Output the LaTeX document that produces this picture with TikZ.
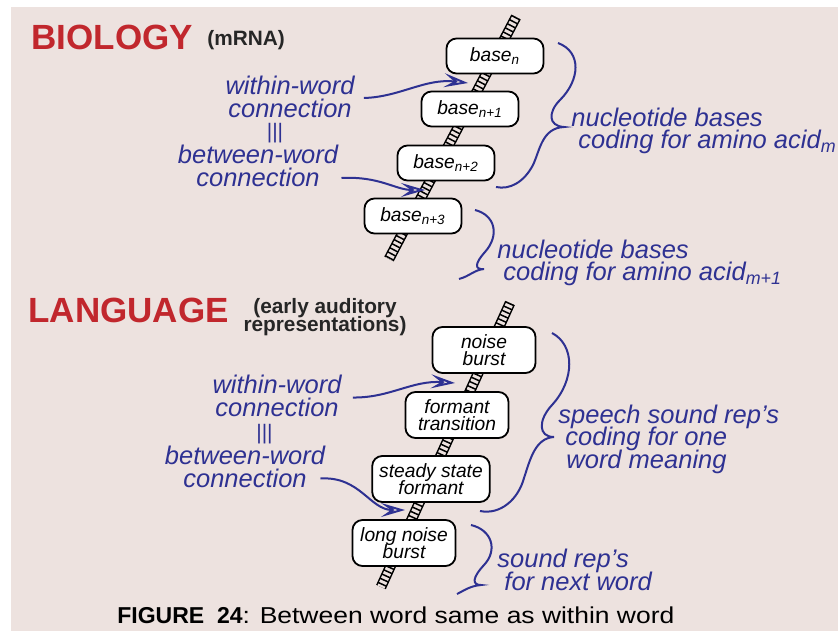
\documentclass[tikz,border=0pt]{standalone}
\usepackage{fontspec}
\setmainfont{Liberation Sans}
\newfontfamily\widesans[FakeStretch=1.15]{Liberation Sans}
\usetikzlibrary{calc,arrows.meta}
\definecolor{bgpink}{HTML}{EDE2DF}
\definecolor{inkblue}{HTML}{2E3192}
\definecolor{titlered}{HTML}{C1272D}
\setlength{\lineskiplimit}{-\maxdimen}

\tikzset{
  headline/.style={text=titlered, font=\fontsize{17.5}{18}\selectfont\bfseries, inner sep=0pt},
  subhead/.style={text=black!85, font=\fontsize{10.4}{9.1}\selectfont\bfseries, inner sep=0pt, align=center},
  unitbox/.style={draw=black, line width=0.9pt, fill=white, rounded corners=5pt,
    font=\fontsize{9.6}{8.2}\selectfont\itshape, align=center, inner xsep=3.5pt,
    minimum width=48.5pt, minimum height=17.5pt},
  soundbox/.style={unitbox, minimum width=51.5pt, minimum height=23pt},
  note/.style={text=inkblue, font=\fontsize{12.75}{11.3}\selectfont\itshape, inner sep=0pt},
  equiv/.style={text=inkblue, font=\fontsize{10.5}{10.5}\selectfont, inner sep=0pt},
  rail/.style={draw=black, line width=0.75pt, double=bgpink, double distance=3.8pt},
  rungs/.style={draw=black, line width=4.6pt, dash pattern=on 0.75pt off 1.55pt},
  arr/.style={draw=inkblue, line width=1pt, -{Stealth[open, length=12pt, width=7pt, inset=5pt]}},
  curly/.style={draw=inkblue, line width=1pt}
}

\begin{document}
\begin{tikzpicture}[x=0.5pt, y=-0.5pt]
\useasboundingbox (0,0) rectangle (838,631);
\fill[bgpink] (11,7) rectangle (838,631);

% biology
\node[headline, anchor=base west] (bioTitle) at (31,50) {BIOLOGY};
\node[subhead, anchor=base west] (bioSub) at (207,46) {(mRNA)};

\coordinate (bioTop) at (516,17);
\coordinate (bioBot) at (389,259);
\draw[rail] (bioTop) -- (bioBot);
\draw[rungs] (bioTop) -- (bioBot);

\node[unitbox] (b0) at (495,56) {base\textsubscript{n}};
\node[unitbox] (b1) at (470,109) {base\textsubscript{n+1}};
\node[unitbox] (b2) at (446,163) {base\textsubscript{n+2}};
\node[unitbox] (b3) at (413,216) {base\textsubscript{n+3}};

\node[note, align=center] (bioWithin) at (290,97) {within-word\\connection};
\node[equiv] (bioEq) at (275,133.5) {|||};
\node[note, align=center] (bioBetween) at (258,166) {between-word\\connection};

\coordinate (bioIn1) at (468,83);
\coordinate (bioIn2) at (425,190);
\draw[arr] ([shift={(9,1)}]bioWithin.east) .. controls (400,97) and (425,78) .. (bioIn1);
\draw[arr] ([shift={(3,12)}]bioBetween.east) .. controls (380,176) and (395,190) .. (bioIn2);

\draw[curly] (558,43) .. controls (582,52) and (580,80) .. (560,100)
  .. controls (548,112) and (548,126) .. (564,127)
  .. controls (542,128) and (540,150) .. (533,165)
  .. controls (524,182) and (510,190) .. (496,187);
\node[note, align=left, anchor=west] (bioCode1) at (571,131)
  {nucleotide bases\\\hspace*{3.5pt}coding for amino acid\textsubscript{m}};

\draw[curly] (475,210) .. controls (495,215) and (500,235) .. (485,252)
  .. controls (475,263) and (474,270) .. (484,269)
  .. controls (474,270) and (470,276) .. (459,279);
\node[note, align=left, anchor=west] (bioCode2) at (497,263)
  {nucleotide bases\\\hspace*{3pt}coding for amino acid\textsubscript{m+1}};

% language
\node[headline, anchor=base west] (langTitle) at (28,322) {LANGUAGE};
\node[subhead] (langSub) at (325,317) {(early auditory\\representations)};

\coordinate (langTop) at (510,303);
\coordinate (langBot) at (381,587);
\draw[rail] (langTop) -- (langBot);
\draw[rungs] (langTop) -- (langBot);

\node[soundbox] (s0) at (484,350) {noise\\burst};
\node[soundbox] (s1) at (457,415) {formant\\transition};
\node[soundbox] (s2) at (431,479) {steady state\\formant};
\node[soundbox] (s3) at (404,543) {long noise\\burst};

\node[note, align=center] (langWithin) at (277,396) {within-word\\connection};
\node[equiv] (langEq) at (264.5,434) {|||};
\node[note, align=center] (langBetween) at (245,467) {between-word\\connection};

\coordinate (langIn1) at (455,383);
\coordinate (langIn2) at (405,510);
\draw[arr] ([shift={(11,1.5)}]langWithin.east) .. controls (390,398) and (412,380) .. (langIn1);
\draw[arr] ([shift={(-5,11.5)}]langBetween.east) .. controls (360,476) and (370,510) .. (langIn2);

\draw[curly] (552,333) .. controls (575,345) and (575,380) .. (552,405)
  .. controls (538,420) and (538,437) .. (554,437)
  .. controls (535,438) and (530,460) .. (524,478)
  .. controls (518,500) and (500,515) .. (480,511);
\node[note, align=left, anchor=west] (langCode1) at (558,439)
  {speech sound rep's\\\hspace*{3.5pt}coding for one\\\hspace*{4pt}word meaning};

\draw[curly] (471,525) .. controls (492,530) and (498,550) .. (484,565)
  .. controls (472,578) and (472,585) .. (481,585)
  .. controls (470,586) and (465,590) .. (457,594);
\node[note, align=left, anchor=west] (langCode2) at (497,570)
  {sound rep's\\\hspace*{3.5pt}for next word};

% caption
\node[anchor=base west, inner sep=0pt, font=\fontsize{11.5}{13}\selectfont] (caption) at (117,623)
  {{\bfseries FIGURE\ \ 24}{\widesans: Between word same as within word}};
\end{tikzpicture}
\end{document}
